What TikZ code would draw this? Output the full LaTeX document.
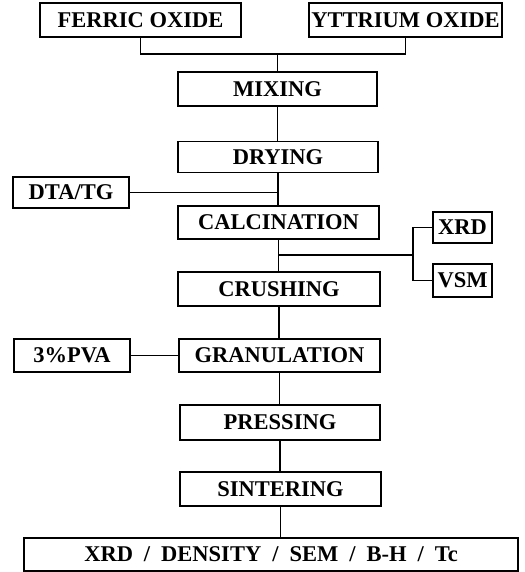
\documentclass[tikz,border=0pt]{standalone}
\usepackage{fontspec}
\setmainfont{Liberation Serif}
\newcommand{\myslash}{\hspace{11pt}/\hspace{11pt}}
\begin{document}
\begin{tikzpicture}[x=1pt,y=-1pt,
  box/.style={draw, line width=1.7pt, inner sep=0pt, font=\fontsize{22.5}{24}\selectfont\bfseries},
  conn/.style={line width=1.7pt}]
\useasboundingbox (0,0) rectangle (524,572);
\node[box, minimum width=201pt, minimum height=34pt] (fe) at (140.5,20) {FERRIC OXIDE};
\node[box, minimum width=193pt, minimum height=34pt] (yt) at (405.5,20) {YTTRIUM OXIDE};
\node[box, minimum width=199pt, minimum height=34pt] (mix) at (277.5,89) {MIXING};
\node[box, minimum width=200pt, minimum height=31pt] (dry) at (278,157) {DRYING};
\node[box, minimum width=116pt, minimum height=31pt] (dta) at (71,192.5) {DTA/TG};
\node[box, minimum width=201pt, minimum height=33pt] (cal) at (278.5,222.5) {CALCINATION};
\node[box, minimum width=59pt, minimum height=31pt] (xrd) at (462.5,227.5) {XRD};
\node[box, minimum width=59pt, minimum height=33pt] (vsm) at (462.5,280.5) {VSM};
\node[box, minimum width=202pt, minimum height=34pt] (cru) at (279,289) {CRUSHING};
\node[box, minimum width=116pt, minimum height=33pt] (pva) at (72,355.5) {3\%PVA};
\node[box, minimum width=201pt, minimum height=33pt] (gra) at (279.5,355.5) {GRANULATION};
\node[box, minimum width=200pt, minimum height=35pt] (pre) at (280,422.5) {PRESSING};
\node[box, minimum width=201pt, minimum height=34pt] (sin) at (280.5,489) {SINTERING};
\node[box, minimum width=494pt, minimum height=33pt] (res) at (271,554.5) {XRD\myslash DENSITY\myslash SEM\myslash B-H\myslash Tc};
\coordinate (m) at (277.5,54);
\coordinate (br) at (278.5,255);
\coordinate (j) at (413,255);
\draw[conn] (fe.south) |- (m) -| (yt.south);
\draw[conn] (m) -- (mix.north);
\draw[conn] (mix.south) -- (mix.south |- dry.north);
\draw[conn] (dry.south) -- (dry.south |- cal.north);
\draw[conn] (dta.east) -- (dta.east -| dry.south);
\draw[conn] (cal.south) -- (cal.south |- cru.north);
\draw[conn] (br) -- (j);
\draw[conn] (xrd.west) -| (j) |- (vsm.west);
\draw[conn] (cru.south) -- (cru.south |- gra.north);
\draw[conn] (pva.east) -- (gra.west);
\draw[conn] (gra.south) -- (gra.south |- pre.north);
\draw[conn] (pre.south) -- (pre.south |- sin.north);
\draw[conn] (sin.south) -- (sin.south |- res.north);
\end{tikzpicture}
\end{document}
